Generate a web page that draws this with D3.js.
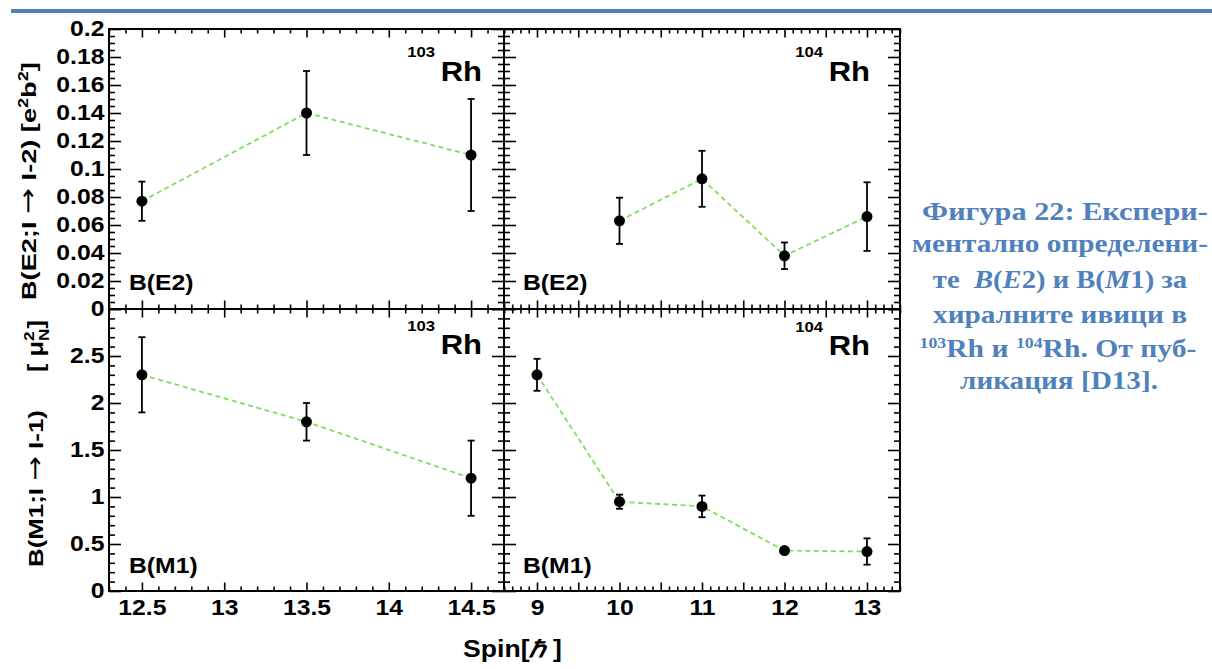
<!DOCTYPE html>
<html>
<head>
<meta charset="utf-8">
<script src="https://cdn.jsdelivr.net/npm/d3@7"></script>
<style>
  html, body { margin: 0; padding: 0; background: #fff; }
  svg { display: block; }
  .lbl { font-family: "Liberation Sans", Arial, Helvetica, sans-serif; font-weight: bold; fill: #000; }
  .arr { font-family: "DejaVu Sans", sans-serif; font-weight: normal; }
  .cap { font-family: "Liberation Serif", "Times New Roman", serif; font-weight: bold; fill: #4f81bd; }
</style>
</head>
<body>
<svg id="chart" width="1212" height="669"></svg>
<script>
// ---- measured reduced transition probabilities ----
const spin103 = [12.5, 13.5, 14.5];
const be2Rh103 = [0.077, 0.140, 0.110];
const be2Rh103Err = [0.014, 0.030, 0.040];
const bm1Rh103 = [2.30, 1.80, 1.20];
const bm1Rh103Err = [0.40, 0.20, 0.40];

const spin104E2 = [10, 11, 12, 13];
const be2Rh104 = [0.063, 0.093, 0.038, 0.066];
const be2Rh104Err = [0.0165, 0.020, 0.0095, 0.0245];

const spin104M1 = [9, 10, 11, 12, 13];
const bm1Rh104 = [2.30, 0.95, 0.90, 0.43, 0.42];
const bm1Rh104Err = [0.17, 0.075, 0.115, 0.03, 0.14];

// ---- tick labels ----
const xTicks103 = [12.5, 13, 13.5, 14, 14.5];
const xTicks104 = [9, 10, 11, 12, 13];
const e2Ticks = [0, 0.02, 0.04, 0.06, 0.08, 0.1, 0.12, 0.14, 0.16, 0.18, 0.2];
const m1Ticks = [0, 0.5, 1, 1.5, 2, 2.5];

// ---- caption lines ----
const captionLines = [
  [{t: "Фигура 22: Експери-"}],
  [{t: "ментално определени-"}],
  [{t: "те  "}, {t: "B", i: true}, {t: "("}, {t: "E", i: true}, {t: "2) и B("}, {t: "M", i: true}, {t: "1) за"}],
  [{t: "хиралните ивици в"}],
  [{t: "103", sup: true}, {t: "Rh и "}, {t: "104", sup: true}, {t: "Rh. От пуб-"}],
  [{t: "ликация [D13]."}]
];

const svg = d3.select("#chart");

// heading rule across the top of the page
svg.append("rect").attr("x", 11).attr("y", 9).attr("width", 1201).attr("height", 4).attr("fill", "#4f81bd");

// frame geometry
const X0 = 109, XM = 504, X1 = 900, Y0 = 29, YM = 309, Y1 = 591;
const x103 = d3.scaleLinear().domain([12.3, 14.7]).range([X0, XM]);
const x104 = d3.scaleLinear().domain([8.6, 13.4]).range([XM, X1]);
const yE2 = d3.scaleLinear().domain([0, 0.2]).range([YM, Y0]);
const yM1 = d3.scaleLinear().domain([0, 3]).range([Y1, YM]);

const SX = 1.15;   // horizontal stretch of the Helvetica-like labels
const fmt = d3.format("~g");

function minorTicks(lo, hi, step, majors) {
  const out = [];
  for (let k = Math.round(lo / step); k <= Math.round(hi / step); k++) {
    const v = +(k * step).toFixed(6);
    if (!majors.some(m => Math.abs(m - v) < 1e-9)) out.push(v);
  }
  return out;
}

function zip(xs, ys, es) { return xs.map((x, i) => ({x, y: ys[i], e: es[i]})); }

// scale a text element horizontally so it spans the given width
function fitWidth(sel, width) {
  const w = sel.node().getBBox().width;
  sel.attr("transform", `scale(${width / w},1)`);
  return sel;
}

function label(parent, x, y, str, size, anchor) {
  const g = parent.append("g").attr("transform", `translate(${x},${y})`);
  g.append("text").attr("class", "lbl").attr("font-size", size)
    .attr("text-anchor", anchor || "start").attr("transform", `scale(${SX},1)`).text(str);
  return g;
}

const e2Major = e2Ticks;
const e2Minor = minorTicks(0, 0.2, 0.005, e2Major);
const m1Major = d3.range(0, 3.01, 0.5).map(v => +v.toFixed(6));
const m1Minor = minorTicks(0, 3, 0.1, m1Major);
const x103Major = xTicks103;
const x103Minor = minorTicks(12.3, 14.7, 0.1, x103Major);
const x104Major = d3.range(9, 13.01, 0.5).map(v => +v.toFixed(6));
const x104Minor = minorTicks(8.6, 13.4, 0.1, x104Major);

const panels = [
  {x: x103, y: yE2, xMaj: x103Major, xMin: x103Minor, yMaj: e2Major, yMin: e2Minor,
   pts: zip(spin103, be2Rh103, be2Rh103Err), tag: "B(E2)", tagX: X0 + 20, tagY: 290,
   mass: "103", isoX: 482, isoY: 81, supY: 57, yLabels: e2Ticks},
  {x: x104, y: yE2, xMaj: x104Major, xMin: x104Minor, yMaj: e2Major, yMin: e2Minor,
   pts: zip(spin104E2, be2Rh104, be2Rh104Err), tag: "B(E2)", tagX: XM + 19, tagY: 290,
   mass: "104", isoX: 870, isoY: 81, supY: 57},
  {x: x103, y: yM1, xMaj: x103Major, xMin: x103Minor, yMaj: m1Major, yMin: m1Minor,
   pts: zip(spin103, bm1Rh103, bm1Rh103Err), tag: "B(M1)", tagX: X0 + 20, tagY: 573,
   mass: "103", isoX: 482, isoY: 354, supY: 331, yLabels: m1Ticks, xLabels: xTicks103},
  {x: x104, y: yM1, xMaj: x104Major, xMin: x104Minor, yMaj: m1Major, yMin: m1Minor,
   pts: zip(spin104M1, bm1Rh104, bm1Rh104Err), tag: "B(M1)", tagX: XM + 19, tagY: 573,
   mass: "104", isoX: 870, isoY: 355, supY: 332, xLabels: xTicks104}
];

function drawPanel(p) {
  const g = svg.append("g");
  const [xa, xb] = p.x.range();
  const [yb, ya] = p.y.range();

  const tk = (axis, len, vals, tx, ty) => g.append("g")
    .attr("transform", `translate(${tx},${ty})`)
    .call(axis.tickValues(vals).tickSize(len).tickFormat(""))
    .call(a => {
      a.select(".domain").remove();
      a.selectAll("line").attr("stroke", "#000").attr("stroke-width", 1.6);
    });

  [[p.xMaj, 8.5], [p.xMin, 4.5]].forEach(([v, l]) => {
    tk(d3.axisBottom(p.x), l, v, 0, ya);
    tk(d3.axisTop(p.x), l, v, 0, yb);
  });
  [[p.yMaj, 12], [p.yMin, 6]].forEach(([v, l]) => {
    tk(d3.axisRight(p.y), l, v, xa, 0);
    tk(d3.axisLeft(p.y), l, v, xb, 0);
  });

  g.append("rect").attr("x", xa).attr("y", ya).attr("width", xb - xa).attr("height", yb - ya)
    .attr("fill", "none").attr("stroke", "#000").attr("stroke-width", 2);

  // tick labels
  if (p.yLabels) {
    g.append("g").attr("transform", `translate(${xa},0)`)
      .call(d3.axisLeft(p.y).tickValues(p.yLabels).tickSize(0).tickPadding(4).tickFormat(fmt))
      .call(a => {
        a.select(".domain").remove();
        a.selectAll("text").attr("class", "lbl").attr("font-size", 21.5)
          .attr("transform", `scale(${SX},1)`);
      });
  }
  if (p.xLabels) {
    g.append("g").attr("transform", `translate(0,${yb})`)
      .call(d3.axisBottom(p.x).tickValues(p.xLabels).tickSize(0).tickPadding(9).tickFormat(fmt))
      .call(a => {
        a.select(".domain").remove();
        a.selectAll("text").attr("class", "lbl").attr("font-size", 21.5)
          .attr("transform", `scale(${SX},1)`);
      });
  }

  // connecting dashed line
  const line = d3.line().x(d => p.x(d.x)).y(d => p.y(d.y));
  g.append("path").datum(p.pts).attr("d", line).attr("fill", "none")
    .attr("stroke", "#7edf5c").attr("stroke-width", 1.8).attr("stroke-dasharray", "5,3.5");

  // error bars
  const eb = g.selectAll(".eb").data(p.pts).join("g").attr("class", "eb")
    .attr("stroke", "#000").attr("stroke-width", 1.8);
  eb.append("line").attr("x1", d => p.x(d.x)).attr("x2", d => p.x(d.x))
    .attr("y1", d => p.y(d.y - d.e)).attr("y2", d => p.y(d.y + d.e));
  eb.append("line").attr("x1", d => p.x(d.x) - 3.5).attr("x2", d => p.x(d.x) + 3.5)
    .attr("y1", d => p.y(d.y + d.e)).attr("y2", d => p.y(d.y + d.e));
  eb.append("line").attr("x1", d => p.x(d.x) - 3.5).attr("x2", d => p.x(d.x) + 3.5)
    .attr("y1", d => p.y(d.y - d.e)).attr("y2", d => p.y(d.y - d.e));

  // markers
  g.selectAll(".pt").data(p.pts).join("circle").attr("class", "pt")
    .attr("cx", d => p.x(d.x)).attr("cy", d => p.y(d.y)).attr("r", 5.5).attr("fill", "#000");

  // panel labels
  label(g, p.tagX, p.tagY, p.tag, 21.5, "start");
  label(g, p.isoX, p.isoY, "Rh", 27, "end");
  label(g, p.isoX - 47, p.supY, p.mass, 14.5, "end");
}

panels.forEach(drawPanel);

// ---- axis titles ----
const tTop = svg.append("g").attr("transform", "translate(36,300) rotate(-90)");
const tt = tTop.append("text").attr("class", "lbl").attr("font-size", 21);
tt.append("tspan").text("B(E2;I ");
tt.append("tspan").attr("class", "arr").attr("font-size", 24).text("\u2192");
tt.append("tspan").text(" I-2) [e");
tt.append("tspan").attr("font-size", 14).attr("dy", -8).text("2");
tt.append("tspan").attr("dy", 8).text("b");
tt.append("tspan").attr("font-size", 14).attr("dy", -8).text("2");
tt.append("tspan").attr("dy", 8).text("]");
fitWidth(tt, 238);

const tBot1 = svg.append("g").attr("transform", "translate(43,567) rotate(-90)");
const tb1 = tBot1.append("text").attr("class", "lbl").attr("font-size", 21);
tb1.append("tspan").text("B(M1;I ");
tb1.append("tspan").attr("class", "arr").attr("font-size", 24).text("\u2192");
tb1.append("tspan").text(" I-1)");
fitWidth(tb1, 157);

const tBot2 = svg.append("g").attr("transform", "translate(43,372) rotate(-90)");
const tb = tBot2.append("text").attr("class", "lbl").attr("font-size", 22);
tb.append("tspan").text("[ \u03bc");
tb.append("tspan").attr("font-size", 15).attr("dy", -9).text("2");
tb.append("tspan").attr("font-size", 15).attr("dx", -8.3).attr("dy", 15).text("N");
tb.append("tspan").attr("dy", -6).text("]");
fitWidth(tb, 52);

const tX = svg.append("g").attr("transform", "translate(463,657)");
const tx = tX.append("text").attr("class", "lbl").attr("font-size", 23);
tx.append("tspan").text("Spin[");
tx.append("tspan").attr("font-style", "italic").text("\u210f");
tx.append("tspan").text("\u00a0]");
fitWidth(tx, 99);

// ---- figure caption ----
const capCenters = [1065, 1060, 1060, 1060, 1058, 1059];
const capBaselines = [220, 252, 288, 323, 357, 389];
const capWidths = [286, 296, 255, 254, 277, 198];
captionLines.forEach((parts, i) => {
  const g = svg.append("g").attr("transform", `translate(${capCenters[i]},${capBaselines[i]})`);
  const t = g.append("text").attr("class", "cap").attr("font-size", 25)
    .attr("text-anchor", "middle").style("white-space", "pre");
  parts.forEach((pt, j) => {
    const s = t.append("tspan").text(pt.t);
    if (pt.i) s.attr("font-style", "italic");
    if (pt.sup) s.attr("font-size", 15).attr("dy", -9);
    else if (j > 0 && parts[j - 1].sup) s.attr("dy", 9);
  });
  fitWidth(t, capWidths[i]);
});
</script>
</body>
</html>
